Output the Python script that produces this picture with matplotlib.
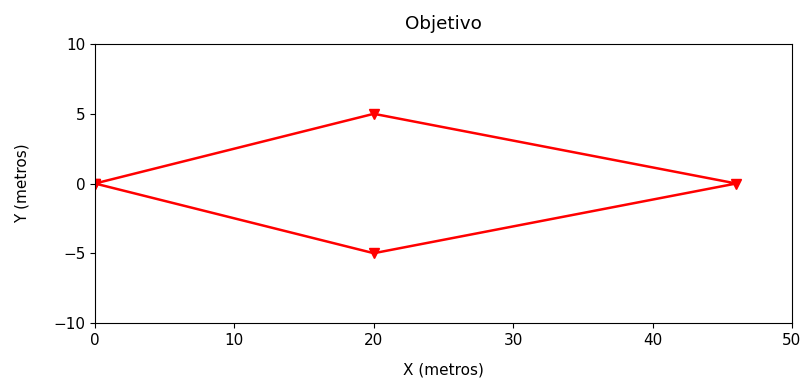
import matplotlib
matplotlib.use("Agg")
from matplotlib import pyplot as plt

# waypoints of the trajectory
x_pts = [0, 20, 46, 20, 0]
y_pts = [0, 5, 0, -5, 0]
y_ticks = [-10, -5, 0, 5, 10]

plt.rcParams['font.size'] = 11

fig = plt.figure(figsize=(8.03, 3.8), dpi=100)
ax = fig.add_axes([95 / 803, 1 - 323 / 380, 697 / 803, 279 / 380])
ax.plot(x_pts, y_pts, color='red', marker='v', linewidth=1.8, markersize=7)
ax.set_xlim(0, 50)
ax.set_ylim(-10, 10)
ax.set_yticks(y_ticks)
ax.set_aspect('equal')
ax.set_title('Objetivo', pad=11)
ax.set_xlabel('X (metros)', labelpad=11)
ax.set_ylabel('Y (metros)', labelpad=17)

fig.savefig('out.png', dpi=100)
